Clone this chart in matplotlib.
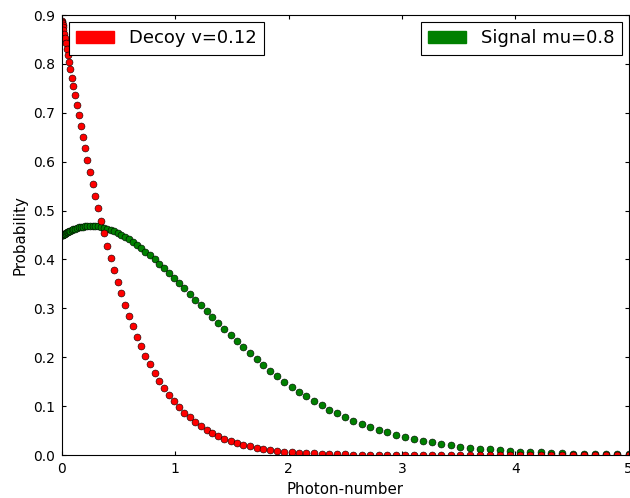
import matplotlib
matplotlib.use("Agg")
import matplotlib.pyplot as plt
import matplotlib.patches as mpatches
import numpy as np

# photon number of each dot (dots get sparser towards the right)
photon_number = [
    0.0000, 0.0005, 0.0020, 0.0046, 0.0082, 0.0128, 0.0184, 0.0250, 0.0327, 0.0413,
    0.0510, 0.0617, 0.0735, 0.0862, 0.1000, 0.1148, 0.1306, 0.1474, 0.1653, 0.1842,
    0.2041, 0.2250, 0.2469, 0.2699, 0.2939, 0.3189, 0.3449, 0.3719, 0.4000, 0.4291,
    0.4591, 0.4903, 0.5224, 0.5556, 0.5898, 0.6250, 0.6612, 0.6984, 0.7367, 0.7760,
    0.8163, 0.8576, 0.8999, 0.9433, 0.9877, 1.0331, 1.0795, 1.1269, 1.1754, 1.2249,
    1.2754, 1.3269, 1.3795, 1.4330, 1.4876, 1.5432, 1.5999, 1.6575, 1.7162, 1.7759,
    1.8366, 1.8983, 1.9611, 2.0248, 2.0896, 2.1554, 2.2223, 2.2901, 2.3590, 2.4289,
    2.4998, 2.5717, 2.6447, 2.7186, 2.7936, 2.8697, 2.9467, 3.0247, 3.1038, 3.1839,
    3.2650, 3.3472, 3.4303, 3.5145, 3.5997, 3.6859, 3.7731, 3.8614, 3.9507, 4.0410,
    4.1323, 4.2246, 4.3180, 4.4124, 4.5078, 4.6042, 4.7016, 4.8001, 4.8996, 5.0000,
]

# Signal state, mu = 0.8
signal = [
    0.4493, 0.4494, 0.4496, 0.4500, 0.4506, 0.4513, 0.4521, 0.4531, 0.4541, 0.4553,
    0.4566, 0.4577, 0.4590, 0.4604, 0.4619, 0.4630, 0.4642, 0.4655, 0.4664, 0.4673,
    0.4681, 0.4684, 0.4688, 0.4686, 0.4683, 0.4675, 0.4665, 0.4650, 0.4632, 0.4607,
    0.4579, 0.4545, 0.4506, 0.4463, 0.4414, 0.4358, 0.4298, 0.4233, 0.4161, 0.4084,
    0.4001, 0.3914, 0.3822, 0.3725, 0.3623, 0.3517, 0.3408, 0.3295, 0.3179, 0.3061,
    0.2940, 0.2818, 0.2695, 0.2571, 0.2447, 0.2323, 0.2200, 0.2078, 0.1958, 0.1840,
    0.1725, 0.1612, 0.1503, 0.1398, 0.1296, 0.1198, 0.1104, 0.1015, 0.0930, 0.0850,
    0.0774, 0.0704, 0.0637, 0.0575, 0.0517, 0.0464, 0.0415, 0.0370, 0.0328, 0.0291,
    0.0257, 0.0226, 0.0198, 0.0173, 0.0150, 0.0131, 0.0113, 0.0097, 0.0084, 0.0071,
    0.0061, 0.0052, 0.0044, 0.0037, 0.0031, 0.0026, 0.0022, 0.0018, 0.0015, 0.0012,
]

# Decoy state, v = 0.12
decoy = [
    0.8869, 0.8862, 0.8841, 0.8806, 0.8758, 0.8695, 0.8619, 0.8529, 0.8426, 0.8310,
    0.8181, 0.8041, 0.7888, 0.7722, 0.7542, 0.7357, 0.7159, 0.6948, 0.6734, 0.6510,
    0.6276, 0.6040, 0.5794, 0.5549, 0.5296, 0.5046, 0.4789, 0.4538, 0.4281, 0.4035,
    0.3786, 0.3543, 0.3306, 0.3072, 0.2849, 0.2633, 0.2423, 0.2221, 0.2033, 0.1853,
    0.1682, 0.1520, 0.1368, 0.1229, 0.1100, 0.0980, 0.0869, 0.0768, 0.0676, 0.0593,
    0.0517, 0.0450, 0.0389, 0.0335, 0.0288, 0.0246, 0.0209, 0.0177, 0.0149, 0.0125,
    0.0105, 0.0087, 0.0072, 0.0059, 0.0049, 0.0040, 0.0032, 0.0026, 0.0021, 0.0017,
    0.0013, 0.0010, 0.0008, 0.0007, 0.0005, 0.0004, 0.0003, 0.0002, 0.0002, 0.0001,
    0.0001, 0.0001, 0.0001, 0.0000, 0.0000, 0.0000, 0.0000, 0.0000, 0.0000, 0.0000,
    0.0000, 0.0000, 0.0000, 0.0000, 0.0000, 0.0000, 0.0000, 0.0000, 0.0000, 0.0000,
]

fig = plt.figure(figsize=(6.3, 4.98), dpi=100)
ax = fig.add_axes([0.0984, 0.0863, 0.8996, 0.8835])

# green first, red drawn on top
ax.plot(photon_number, signal, 'o', color='#008000', markeredgecolor='black',
        markeredgewidth=0.4, markersize=5)
ax.plot(photon_number, decoy, 'o', color='#ff0000', markeredgecolor='black',
        markeredgewidth=0.4, markersize=5)

ax.set_xlim(0, 5)
ax.set_ylim(0, 0.9)
ax.set_xticks([0, 1, 2, 3, 4, 5])
yt = np.arange(0, 0.91, 0.1)
ax.set_yticks(yt)
ax.set_yticklabels(['%.1f' % v for v in yt])
ax.tick_params(direction='in', top=True, right=True, length=3.2, width=0.8,
               labelsize=10, pad=5)
for s in ax.spines.values():
    s.set_linewidth(0.8)

ax.set_xlabel('Photon-number', fontsize=10.8)
ax.set_ylabel('Probability', fontsize=10.8)

red_patch = mpatches.Patch(color='#ff0000', label='Decoy v=0.12')
green_patch = mpatches.Patch(color='#008000', label='Signal mu=0.8')

leg1 = ax.legend(handles=[red_patch], loc='upper left', fontsize=13,
                 fancybox=False, framealpha=1, edgecolor='black',
                 borderaxespad=0.4, handlelength=2.1)
leg1.get_frame().set_linewidth(0.8)
ax.add_artist(leg1)
leg2 = ax.legend(handles=[green_patch], loc='upper right', fontsize=13,
                 fancybox=False, framealpha=1, edgecolor='black',
                 borderaxespad=0.4, handlelength=2.1)
leg2.get_frame().set_linewidth(0.8)

fig.savefig('out.png', dpi=100)
